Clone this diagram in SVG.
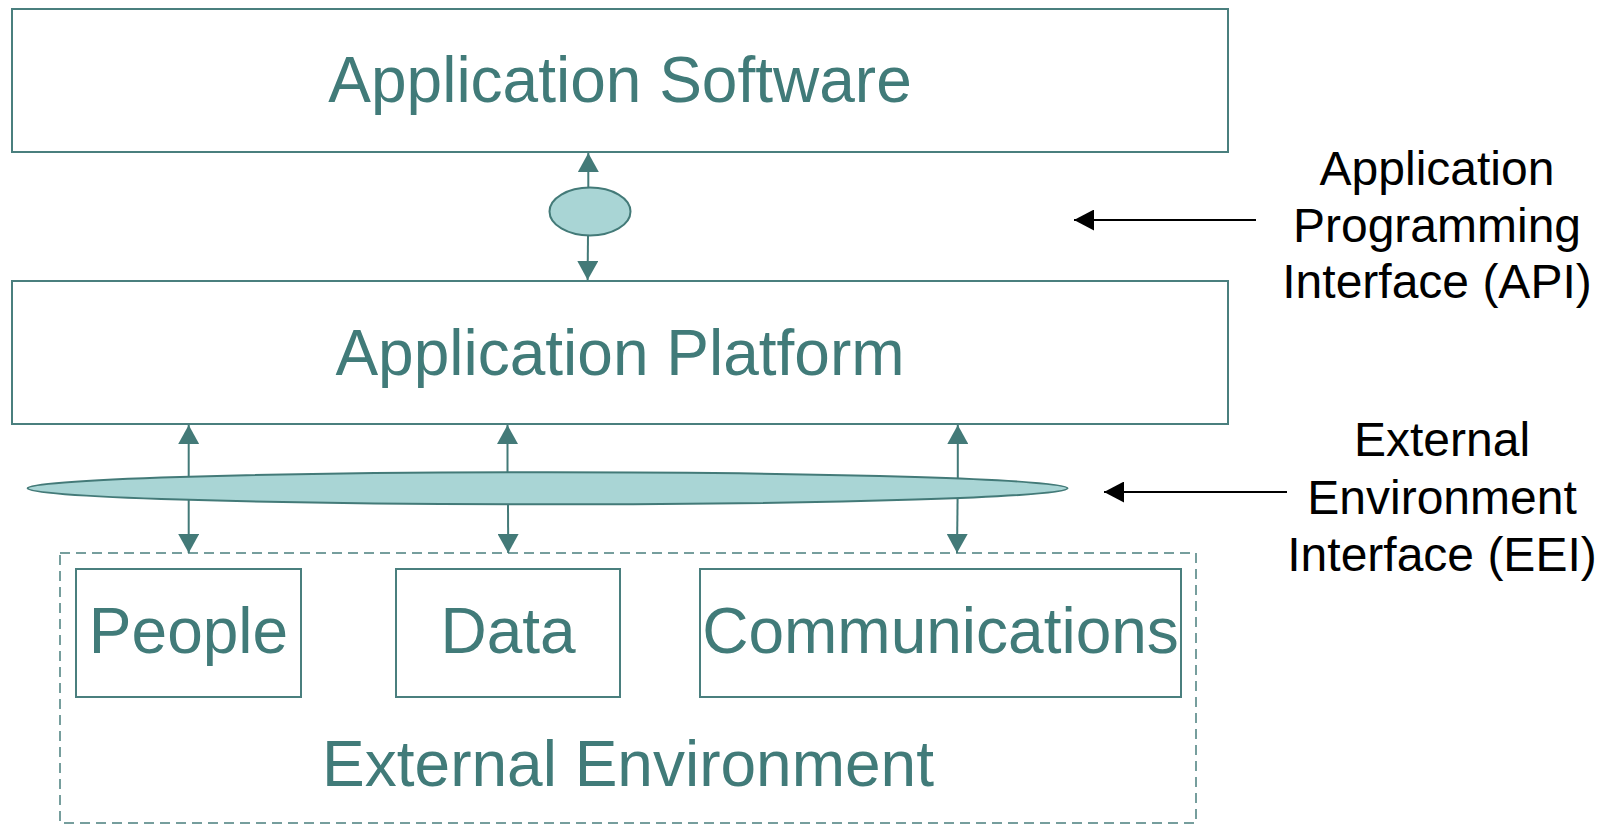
<svg xmlns="http://www.w3.org/2000/svg" width="1612" height="824" viewBox="0 0 1612 824">
  <style>
    .box { fill: #ffffff; stroke: #4a7f7e; stroke-width: 2; }
    .env { fill: none; stroke: #4a7f7e; stroke-width: 1.5; stroke-dasharray: 10 6; }
    .iface { fill: #a9d5d5; stroke: #437a78; stroke-width: 2; }
    .lbl { font-family: "Liberation Sans", Arial, sans-serif; font-size: 64px; fill: #417b79; text-anchor: middle; }
    .note { font-family: "Liberation Sans", Arial, sans-serif; font-size: 48px; fill: #000000; text-anchor: middle; }
    .link { stroke: #437a78; stroke-width: 2; fill: none; marker-end: url(#tealHead); }
    .pointer { stroke: #000000; stroke-width: 2; fill: none; marker-end: url(#blackHead); }
  </style>
  <defs>
    <marker id="tealHead" markerUnits="userSpaceOnUse" markerWidth="20" markerHeight="21" refX="19" refY="10.5" orient="auto">
      <path d="M0,0 L19,10.5 L0,21 z" fill="#437a78"/>
    </marker>
    <marker id="blackHead" markerUnits="userSpaceOnUse" markerWidth="20" markerHeight="21" refX="20" refY="10.5" orient="auto">
      <path d="M0,0 L20,10.5 L0,21 z" fill="#000000"/>
    </marker>
  </defs>

  <rect width="1612" height="824" fill="#ffffff"/>

  <g id="application-software">
    <rect class="box" x="12" y="9" width="1216" height="143"/>
    <text class="lbl" x="620" y="102">Application Software</text>
  </g>

  <g id="application-platform">
    <rect class="box" x="12" y="281" width="1216" height="143"/>
    <text class="lbl" x="620" y="375">Application Platform</text>
  </g>

  <g id="api">
    <ellipse class="iface" cx="590" cy="211.5" rx="40.5" ry="24"/>
  </g>

  <g id="eei">
    <ellipse class="iface" cx="547.6" cy="488.3" rx="520" ry="16"/>
  </g>

  <g id="external-environment">
    <rect class="env" x="60" y="553" width="1136" height="270"/>
    <text class="lbl" x="628" y="786">External Environment</text>
  </g>

  <g id="people">
    <rect class="box" x="76" y="569" width="225" height="128"/>
    <text class="lbl" x="188.5" y="653">People</text>
  </g>

  <g id="data">
    <rect class="box" x="396" y="569" width="224" height="128"/>
    <text class="lbl" x="508" y="653">Data</text>
  </g>

  <g id="communications">
    <rect class="box" x="700" y="569" width="481" height="128"/>
    <text class="lbl" x="940.5" y="653">Communications</text>
  </g>

  <g id="api-label">
    <text class="note" x="1437" y="185">Application</text>
    <text class="note" x="1437" y="242">Programming</text>
    <text class="note" x="1437" y="298">Interface (API)</text>
  </g>

  <g id="eei-label">
    <text class="note" x="1442" y="456">External</text>
    <text class="note" x="1442" y="514">Environment</text>
    <text class="note" x="1442" y="571">Interface (EEI)</text>
  </g>

  <g id="connectors">
    <!-- API: platform <-> software -->
    <line class="link" x1="588.3" y1="187.5" x2="588.3" y2="153"/>
    <line class="link" x1="588" y1="235.5" x2="587.6" y2="280"/>
    <!-- EEI: platform <-> external environment -->
    <line class="link" x1="188.7" y1="476.7" x2="188.7" y2="425"/>
    <line class="link" x1="188.7" y1="500" x2="188.7" y2="553"/>
    <line class="link" x1="507.5" y1="472.4" x2="507.5" y2="425"/>
    <line class="link" x1="508" y1="504.2" x2="508.2" y2="553"/>
    <line class="link" x1="957.8" y1="478.5" x2="957.8" y2="425"/>
    <line class="link" x1="957.6" y1="498.1" x2="957" y2="553"/>
    <!-- label pointers -->
    <line class="pointer" x1="1256" y1="220" x2="1074" y2="220"/>
    <line class="pointer" x1="1287" y1="492" x2="1104" y2="492"/>
  </g>
</svg>
